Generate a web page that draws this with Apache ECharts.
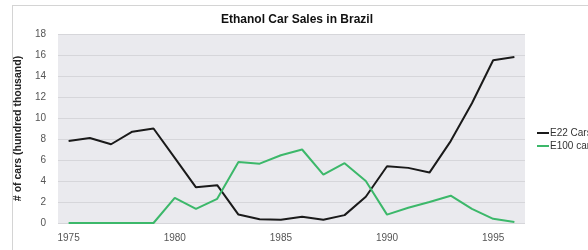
<!DOCTYPE html>
<html>
<head>
<meta charset="utf-8">
<script src="https://cdn.jsdelivr.net/npm/echarts@6/dist/echarts.min.js"></script>
<style>
    html, body { margin: 0; padding: 0; background: #fff; }
    #wrap { position: absolute; left: 12px; top: 5px; width: 600px; height: 260px; border: 1px solid #d4d4d4; box-sizing: border-box; }
    #chart { position: absolute; left: 0; top: 0; width: 588px; height: 250px; }
</style>
</head>
<body>
<div id="wrap"></div>
<div id="chart"></div>
<script>
    // years on the x axis
    var years = ['1975','1976','1977','1978','1979','1980','1981','1982','1983','1984','1985',
                 '1986','1987','1988','1989','1990','1991','1992','1993','1994','1995','1996'];
    // sales, hundred thousand cars
    var e22Cars  = [7.8, 8.1, 7.5, 8.7, 9.0, 6.2, 3.4, 3.6, 0.8, 0.35, 0.3,
                    0.6, 0.3, 0.75, 2.5, 5.4, 5.25, 4.8, 7.8, 11.4, 15.5, 15.8];
    var e100Cars = [0, 0, 0, 0, 0, 2.4, 1.35, 2.3, 5.8, 5.65, 6.45,
                    7.0, 4.6, 5.7, 4.0, 0.8, 1.45, 2.0, 2.6, 1.35, 0.4, 0.1];
    var yTicks = [0, 2, 4, 6, 8, 10, 12, 14, 16, 18];

    var chart = echarts.init(document.getElementById('chart'));
    var option = {
        backgroundColor: 'transparent',
        animation: false,
        title: {
            text: 'Ethanol Car Sales in Brazil',
            left: 292,
            textAlign: 'center',
            top: 9,
            textStyle: { fontFamily: 'Liberation Sans', fontSize: 12, fontWeight: 'bold', color: '#111' }
        },
        legend: {
            orient: 'vertical',
            left: 532,
            top: 123,
            itemWidth: 12,
            itemHeight: 2,
            itemGap: 3,
            icon: 'rect',
            textStyle: { fontFamily: 'Liberation Sans', fontSize: 10, color: '#333', padding: [0, 0, 0, -4] },
            data: ['E22 Cars', 'E100 cars']
        },
        grid: {
            left: 58,
            right: 63,
            top: 34,
            bottom: 27,
            show: true,
            backgroundColor: '#eaeaee',
            borderWidth: 0
        },
        xAxis: {
            type: 'category',
            data: years,
            boundaryGap: true,
            axisLine: { show: false },
            axisTick: { show: false },
            axisLabel: {
                interval: 4,
                color: '#555',
                fontFamily: 'Liberation Sans',
                fontSize: 10,
                margin: 10
            }
        },
        yAxis: {
            type: 'value',
            min: yTicks[0],
            max: yTicks[yTicks.length - 1],
            interval: 2,
            name: '# of cars (hundred thousand)',
            nameLocation: 'middle',
            nameGap: 27,
            nameRotate: 90,
            nameTextStyle: { fontFamily: 'Liberation Sans', fontSize: 10.5, fontWeight: 'bold', color: '#222' },
            axisLine: { show: false },
            axisTick: { show: false },
            axisLabel: { color: '#555', fontFamily: 'Liberation Sans', fontSize: 10, margin: 12 },
            splitLine: { lineStyle: { color: '#d6d6da', width: 1 } }
        },
        series: [{
            name: 'E22 Cars',
            type: 'line',
            data: e22Cars,
            showSymbol: false,
            lineStyle: { color: '#1a1a1a', width: 2 },
            itemStyle: { color: '#1a1a1a' }
        }, {
            name: 'E100 cars',
            type: 'line',
            data: e100Cars,
            showSymbol: false,
            lineStyle: { color: '#3cb86a', width: 2 },
            itemStyle: { color: '#3cb86a' }
        }]
    };
    chart.setOption(option);
</script>
</body>
</html>
